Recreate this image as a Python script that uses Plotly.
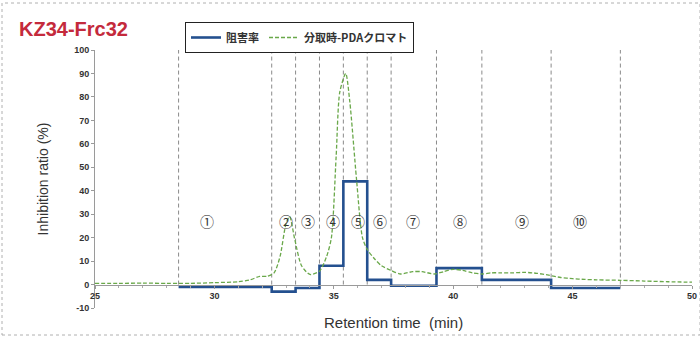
import plotly.graph_objects as go

# ---- data ----
frac_edges = [28.5, 32.4, 33.4, 34.4, 35.4, 36.4, 37.4, 39.3, 41.2, 44.1, 47.0]
inhibition = [-1.0, -3.0, -1.5, 8.0, 44.0, 2.0, -0.5, 7.0, 2.0, -1.5]

pda_x = [25, 26, 27, 28, 28.5, 29, 30, 31, 31.5, 31.9, 32.2, 32.5, 32.75, 33.0, 33.15,
         33.37, 33.65, 34.0, 34.4, 34.7, 34.9, 35.1, 35.25, 35.5, 35.67, 35.95, 36.2,
         36.4, 36.7, 37.0, 37.4, 37.8, 38.3, 38.7, 39.2, 39.6, 40.0, 40.4, 40.8, 41.2,
         41.6, 42.0, 42.5, 43.0, 43.5, 44.0, 44.5, 45.0, 45.5, 46.0, 47.0, 48.0, 49.0, 50.0]
pda_y = [0.5, 0.5, 0.6, 0.5, 0.5, 0.5, 0.8, 1.2, 2.0, 3.5, 3.5, 5, 12, 26, 29,
         19, 8, 4.3, 5.7, 12, 20, 55, 82, 90, 78, 45, 20,
         15, 11, 8, 6, 4.5, 5.5, 5.5, 4.5, 5.5, 6.5, 6, 5, 4.5,
         5, 5, 5, 5.2, 4.8, 4, 3, 2.5, 2.2, 2, 1.8, 1.5, 1.2, 1]

frac_labels = ["①", "②", "③", "④", "⑤", "⑥", "⑦", "⑧", "⑨", "⑩"]
label_x = [29.7, 33.0, 33.9, 34.95, 36.0, 36.95, 38.3, 40.3, 42.9, 45.3]
label_y = 27

x_ticks = [25, 30, 35, 40, 45, 50]
y_ticks = [-10, 0, 10, 20, 30, 40, 50, 60, 70, 80, 90, 100]

# ---- figure ----
fig = go.Figure()

for xe in frac_edges:
    fig.add_shape(type="line", xref="x", yref="y", x0=xe, x1=xe, y0=0, y1=100,
                  line=dict(color="#8a8a8a", width=1, dash="4px,3px"), layer="below")

fig.add_trace(go.Scatter(
    x=frac_edges, y=inhibition + [inhibition[-1]], mode="lines", name="<b>阻害率</b>",
    line=dict(color="#24508f", width=2.6, shape="hv")))

fig.add_trace(go.Scatter(
    x=pda_x, y=pda_y, mode="lines", name="<b>分取時-PDAクロマト</b>",
    line=dict(color="#6aa84a", width=1.3, dash="4px,2px", shape="spline", smoothing=0.7)))

for lab, lx in zip(frac_labels, label_x):
    fig.add_annotation(x=lx, y=label_y, xref="x", yref="y", text=lab, showarrow=False,
                       font=dict(family="Noto Sans CJK JP", size=14, color="#333333"))

fig.add_annotation(x=-95/597 + 17/597, y=1 + 21/258, xref="paper", yref="paper",
                   text="<b>KZ34-Frc32</b>", showarrow=False, xanchor="left", yanchor="middle",
                   font=dict(family="Liberation Sans", size=20, color="#c42a3c"))
fig.add_annotation(x=0.5, y=-14/258, xref="paper", yref="paper", text="Retention time  (min)",
                   showarrow=False, yanchor="middle",
                   font=dict(family="Liberation Sans", size=15, color="#333333"))

fig.add_shape(type="rect", xref="paper", yref="paper",
              x0=-93/597, x1=605/597, y0=-27/258, y1=1 + 47/258,
              line=dict(color="#b0b0b0", width=1, dash="dot"))

fig.update_layout(
    width=700, height=338,
    margin=dict(l=95, r=8, t=50, b=30, autoexpand=False),
    paper_bgcolor="white", plot_bgcolor="white",
    showlegend=True,
    legend=dict(orientation="h", x=90/597, y=1 + 28/258, xanchor="left", yanchor="top",
                bordercolor="#222222", borderwidth=1, bgcolor="white",
                font=dict(family="Noto Sans CJK JP", size=11, color="#333333"),
                itemwidth=30, tracegroupgap=0),
    xaxis=dict(range=[25, 50], tickvals=x_ticks, ticktext=[f"<b>{v}</b>" for v in x_ticks],
               anchor="free", position=10/110, showgrid=False, zeroline=False, automargin=False,
               showline=True, linecolor="#9a9a9a", linewidth=1,
               ticks="outside", ticklen=3, tickcolor="#9a9a9a",
               minor=dict(dtick=1, ticks="outside", ticklen=2, tickcolor="#aaaaaa"),
               tickfont=dict(family="Liberation Sans", size=9, color="#333333")),
    yaxis=dict(range=[-10, 100], tickvals=y_ticks, ticktext=[f"<b>{v}</b>" for v in y_ticks],
               showgrid=False, zeroline=False, showline=True, linecolor="#9a9a9a", linewidth=1,
               ticks="outside", ticklen=3, tickcolor="#9a9a9a", automargin=False,
               title=dict(text="Inhibition ratio (%)", standoff=22,
                          font=dict(family="Liberation Sans", size=14, color="#333333")),
               tickfont=dict(family="Liberation Sans", size=9, color="#333333")),
)

fig.write_html("out.html", config={"displayModeBar": False})
with open("out.html", encoding="utf-8") as f:
    html = f.read()
html = html.replace("<body>", '<body style="margin:0;padding:0">', 1)
with open("out.html", "w", encoding="utf-8") as f:
    f.write(html)
